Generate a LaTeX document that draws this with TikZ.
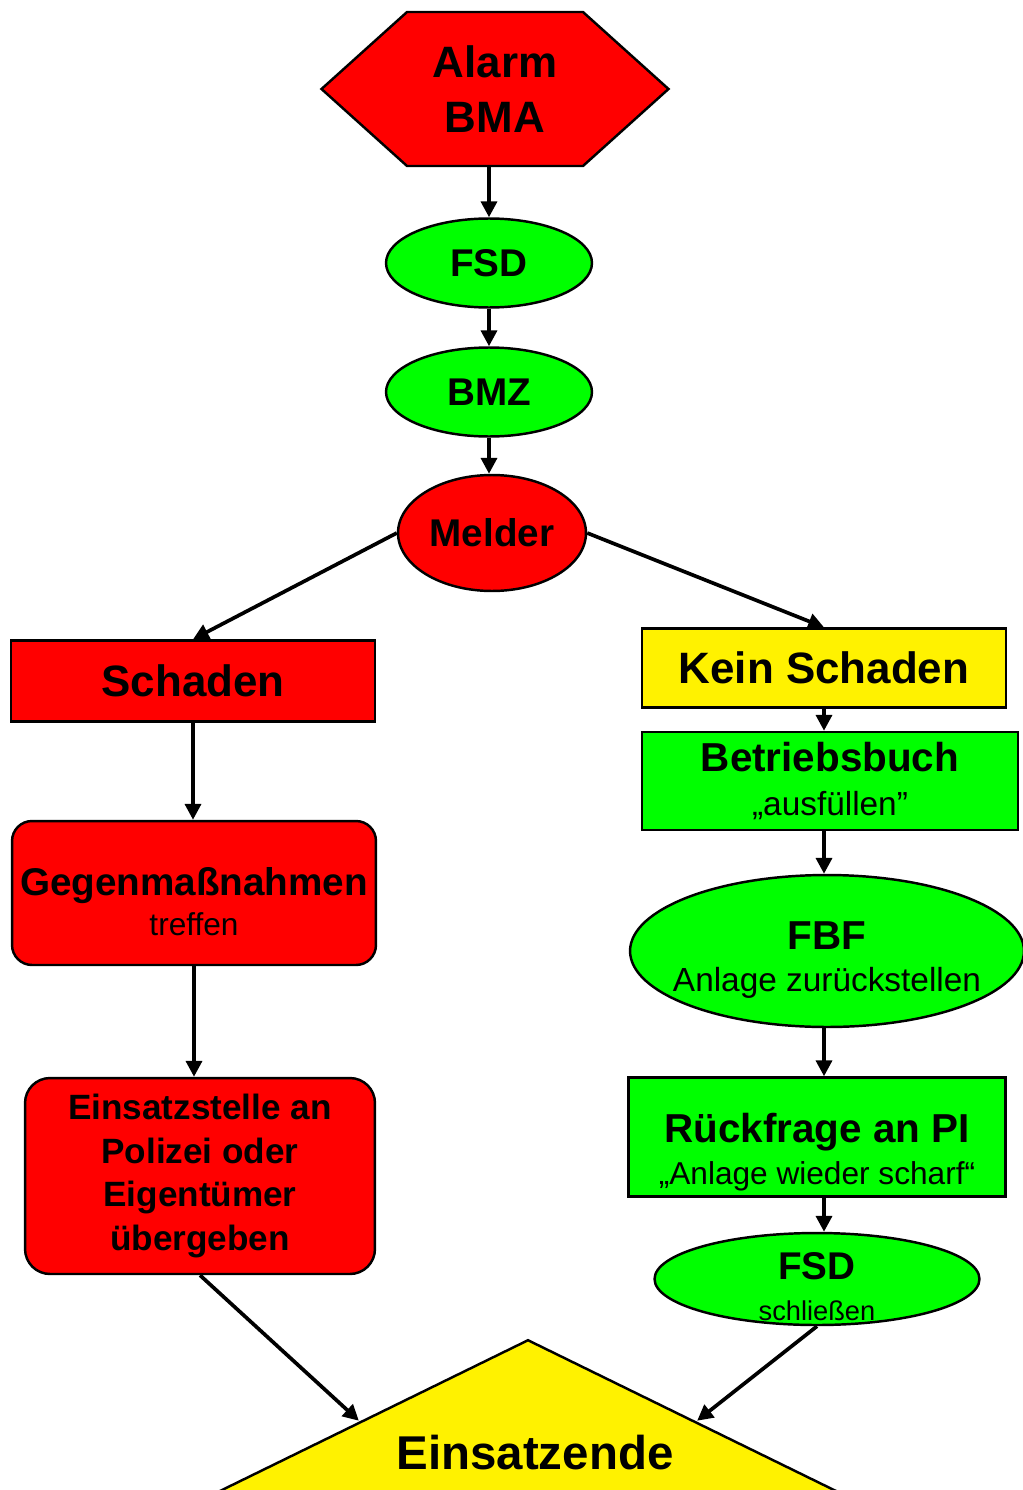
\documentclass[tikz,border=0pt]{standalone}
\usepackage{fontspec}
\setmainfont{Liberation Sans}
\usetikzlibrary{shapes.geometric,shapes.symbols,arrows.meta}

\begin{document}
\begin{tikzpicture}[x=0.02cm, y=-0.02cm, line width=1.4pt, inner sep=0pt,
  box/.style = {draw, rectangle, align=center},
  oval/.style = {draw, ellipse, align=center, fill=green},
  arr/.style = {line width=2.1pt, -{Triangle[length=9pt,width=9pt]}}]
  \useasboundingbox (0,0) rectangle (1023,1490);
  \clip (0,0) rectangle (1023,1490);
  \node[draw, fill=red, signal, signal to=west and east, signal pointer angle=84, minimum height=3.08cm, text width=3.52cm, align=center, font=\fontsize{25}{31}\selectfont\bfseries] (alarm) at (495,89) {Alarm\\BMA};
  \node[oval, minimum width=4.12cm, minimum height=1.78cm, font=\fontsize{22}{24}\selectfont\bfseries] (fsd) at (489,263) {FSD};
  \node[oval, minimum width=4.12cm, minimum height=1.78cm, font=\fontsize{22}{24}\selectfont\bfseries] (bmz) at (489,392) {BMZ};
  \node[oval, fill=red, minimum width=3.76cm, minimum height=2.32cm, font=\fontsize{22}{24}\selectfont\bfseries] (melder) at (492,533) {Melder};
  \node[box, fill=red, minimum width=7.28cm, minimum height=1.62cm, font=\fontsize{25}{28}\selectfont\bfseries] (schaden) at (193,681) {Schaden};
  \node[box, fill=red, rounded corners=0.4cm, minimum width=7.28cm, minimum height=2.88cm, font=\fontsize{18}{23}\selectfont] (gegen) at (194,893) {\rule{0pt}{26pt}{\fontsize{22}{23}\selectfont\bfseries Gegenmaßnahmen}\\treffen};
  \node[box, fill=red, rounded corners=0.5cm, minimum width=7cm, minimum height=3.92cm, font=\fontsize{20}{25}\selectfont\bfseries] (einsatz) at (200,1176) {Einsatzstelle an\\Polizei oder\\Eigentümer\\übergeben};
  \node[box, fill=yellow, minimum width=7.28cm, minimum height=1.58cm, font=\fontsize{25}{28}\selectfont\bfseries] (kein) at (824,668) {Kein Schaden};
  \node[box, fill=green, minimum width=7.52cm, minimum height=1.96cm, font=\fontsize{19}{25}\selectfont] (buch) at (830,781) {{\fontsize{23}{25}\selectfont\bfseries Betriebsbuch}\\„ausfüllen"};
  \node[oval, inner xsep=-0.5cm, minimum width=7.88cm, minimum height=3.04cm, font=\fontsize{19}{24}\selectfont] (fbf) at (827,951) {\rule{0pt}{26pt}{\fontsize{23}{24}\selectfont\bfseries FBF}\\Anlage zurückstellen};
  \node[box, fill=green, minimum width=7.54cm, minimum height=2.38cm, font=\fontsize{18}{24}\selectfont] (rueck) at (817,1137) {\rule{0pt}{34pt}{\fontsize{23}{24}\selectfont\bfseries Rückfrage an PI}\\„Anlage wieder scharf“};
  \node[oval, inner ysep=-0.3cm, minimum width=6.5cm, minimum height=1.84cm, font=\fontsize{15.5}{23}\selectfont] (fsdb) at (817,1279) {\rule{0pt}{24pt}{\fontsize{22}{23}\selectfont\bfseries FSD}\\schließen};
  \node[draw, fill=yellow, isosceles triangle, shape border rotate=90, isosceles triangle stretches, minimum width=13.32cm, minimum height=3.26cm, anchor=apex] (ende) at (528,1337) {};
  \node[font=\fontsize{27}{30}\selectfont\bfseries] (endetext) at (535,1453) {Einsatzende};
  \draw[arr] (fsd |- alarm.south) to (fsd);
  \draw[arr] (fsd) to (bmz);
  \draw[arr] (bmz) to (bmz |- melder.north);
  \draw[arr] (melder.west) to (schaden.north);
  \draw[arr] (melder.east) to (kein.north);
  \draw[arr] (schaden) to (schaden |- gegen.north);
  \draw[arr] (gegen) to (gegen |- einsatz.north);
  \draw[arr] (einsatz.south) to (ende.left side);
  \draw[arr] (kein) to (kein |- buch.north);
  \draw[arr] (kein |- buch.south) to (kein |- fbf.north);
  \draw[arr] (kein |- fbf.south) to (kein |- rueck.north);
  \draw[arr] (kein |- rueck.south) to (kein |- fsdb.north);
  \draw[arr] (fsdb.south) to (ende.right side);
\end{tikzpicture}
\end{document}
